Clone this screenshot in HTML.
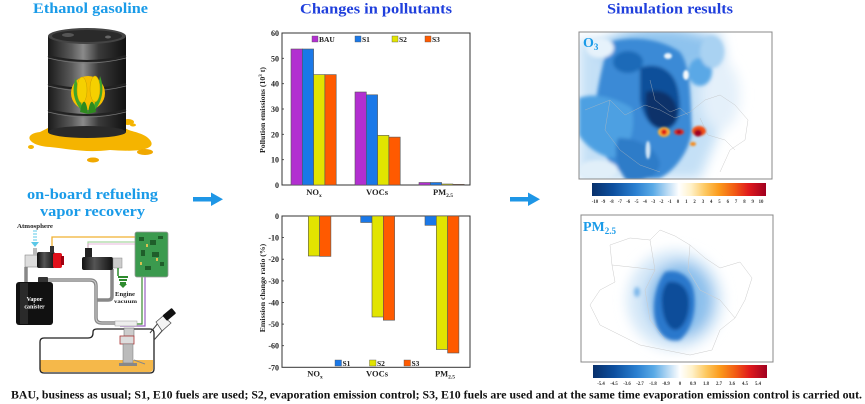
<!DOCTYPE html>
<html><head><meta charset="utf-8">
<style>
html,body{margin:0;padding:0;background:#fff;}
svg{display:block;}
text{font-family:"Liberation Serif",serif;font-weight:bold;}
</style></head>
<body>
<svg width="865" height="404" viewBox="0 0 865 404" xmlns="http://www.w3.org/2000/svg">
<defs>
  <filter id="b3" x="-30%" y="-30%" width="160%" height="160%"><feGaussianBlur stdDeviation="3"/></filter>
  <filter id="b2" x="-30%" y="-30%" width="160%" height="160%"><feGaussianBlur stdDeviation="1.8"/></filter>
  <filter id="b6" x="-40%" y="-40%" width="180%" height="180%"><feGaussianBlur stdDeviation="6"/></filter>
  <filter id="b1" x="-30%" y="-30%" width="160%" height="160%"><feGaussianBlur stdDeviation="1"/></filter>
  <clipPath id="m1"><rect x="579" y="32" width="193" height="147"/></clipPath>
  <clipPath id="m2"><rect x="581" y="215" width="192" height="147"/></clipPath>
  <linearGradient id="cb1" x1="0" x2="1" y1="0" y2="0">
    <stop offset="0" stop-color="#08306b"/>
    <stop offset="0.12" stop-color="#0d4f9e"/>
    <stop offset="0.25" stop-color="#2a7fd0"/>
    <stop offset="0.35" stop-color="#5aaae6"/>
    <stop offset="0.43" stop-color="#b5d8f3"/>
    <stop offset="0.5" stop-color="#ffffff"/>
    <stop offset="0.57" stop-color="#fff1c8"/>
    <stop offset="0.65" stop-color="#fdc860"/>
    <stop offset="0.73" stop-color="#fb9a1c"/>
    <stop offset="0.82" stop-color="#f25a14"/>
    <stop offset="0.9" stop-color="#e01a1c"/>
    <stop offset="1" stop-color="#a00020"/>
  </linearGradient>
  <linearGradient id="barrel" x1="0" x2="1" y1="0" y2="0">
    <stop offset="0" stop-color="#1a1a1a"/>
    <stop offset="0.3" stop-color="#5a5a5a"/>
    <stop offset="0.45" stop-color="#8a8a8a"/>
    <stop offset="0.65" stop-color="#3a3a3a"/>
    <stop offset="1" stop-color="#111"/>
  </linearGradient>
  <linearGradient id="steel" x1="0" x2="1" y1="0" y2="0">
    <stop offset="0" stop-color="#111"/>
    <stop offset="0.4" stop-color="#555"/>
    <stop offset="1" stop-color="#111"/>
  </linearGradient>
</defs>

<!-- ===== Titles ===== -->
<text x="33" y="13" font-size="14.5" fill="#1a9be8" textLength="115" lengthAdjust="spacingAndGlyphs">Ethanol gasoline</text>
<text x="300" y="13.5" font-size="15" fill="#1f3fdc" textLength="152" lengthAdjust="spacingAndGlyphs">Changes in pollutants</text>
<text x="607" y="13.5" font-size="15" fill="#1f3fdc" textLength="126" lengthAdjust="spacingAndGlyphs">Simulation results</text>
<text x="27" y="199" font-size="14.5" fill="#1a9be8" textLength="131" lengthAdjust="spacingAndGlyphs">on-board refueling</text>
<text x="40" y="216" font-size="14.5" fill="#1a9be8" textLength="105" lengthAdjust="spacingAndGlyphs">vapor recovery</text>

<!-- ===== Barrel ===== -->
<g>
  <path d="M40,132 C22,134 28,146 50,147 C70,149 85,153 110,150 C135,152 158,150 150,140 C144,132 130,132 125,128 L48,128 Z" fill="#f5b400"/>
  <ellipse cx="128" cy="122" rx="6" ry="3" fill="#f5b400"/>
  <ellipse cx="145" cy="152" rx="8" ry="3" fill="#f0a800"/>
  <ellipse cx="93" cy="160" rx="6" ry="2.5" fill="#f0a800"/>
  <ellipse cx="31" cy="147" rx="3" ry="2" fill="#f5b400"/>
  <ellipse cx="133" cy="125" rx="3" ry="1.5" fill="#f5b400"/>
  <rect x="48" y="36" width="78" height="96" fill="url(#barrel)"/>
  <ellipse cx="87" cy="132" rx="39" ry="6" fill="#2a2a2a"/>
  <ellipse cx="87" cy="36" rx="39" ry="8" fill="#444"/>
  <ellipse cx="87" cy="36" rx="35" ry="6" fill="#2a2a2a"/>
  <ellipse cx="68" cy="35" rx="6" ry="2" fill="#555"/>
  <ellipse cx="108" cy="37" rx="3" ry="1.5" fill="#666"/>
  <path d="M48,56 Q87,66 126,56" stroke="#222" stroke-width="2" fill="none"/>
  <path d="M48,58 Q87,68 126,58" stroke="#777" stroke-width="0.8" fill="none"/>
  <path d="M48,84 Q87,94 126,84" stroke="#222" stroke-width="2" fill="none"/>
  <path d="M48,86 Q87,96 126,86" stroke="#777" stroke-width="0.8" fill="none"/>
  <path d="M48,110 Q87,120 126,110" stroke="#222" stroke-width="2" fill="none"/>
  <path d="M48,112 Q87,122 126,112" stroke="#777" stroke-width="0.8" fill="none"/>
  <circle cx="88" cy="93" r="17" fill="#f7c000"/>
  <path d="M76,78 C70,92 76,106 84,113 C80,100 78,88 76,78Z" fill="#3fa52a"/>
  <path d="M100,76 C106,92 100,106 92,113 C96,100 98,88 100,76Z" fill="#3fa52a"/>
  <ellipse cx="82" cy="90" rx="5" ry="13" fill="#f5d000" stroke="#c8a000" stroke-width="0.5"/>
  <ellipse cx="95" cy="89" rx="5" ry="13" fill="#f5d000" stroke="#c8a000" stroke-width="0.5"/>
  <path d="M80,112 C82,100 86,96 88,114Z" fill="#2e8a1e"/>
  <path d="M96,112 C94,100 90,96 88,114Z" fill="#2e8a1e"/>
</g>

<!-- ===== Refueling diagram ===== -->
<g>
  <text x="17" y="228" font-size="6" fill="#222" textLength="36" lengthAdjust="spacingAndGlyphs">Atmosphere</text>
  <g stroke="#5bc8e8" stroke-width="1">
    <line x1="33" y1="231" x2="37" y2="231"/><line x1="33" y1="234" x2="37" y2="234"/><line x1="33" y1="237" x2="37" y2="237"/><line x1="33" y1="240" x2="37" y2="240"/>
  </g>
  <path d="M31,242 L39,242 L35,247 Z" fill="#5bc8e8"/>
  <path d="M52,248 L52,237 L136,237" stroke="#f0b030" stroke-width="1.3" fill="none"/>
  <path d="M88,249 L88,242 L136,242" stroke="#a8d8a0" stroke-width="1.2" fill="none"/>
  <path d="M88,249 L88,244 L136,244" stroke="#e0a0d0" stroke-width="0.8" fill="none"/>
  <path d="M142,276 L142,324 L120,324" stroke="#3a8a30" stroke-width="1.2" fill="none"/>
  <path d="M145,276 L145,326 L120,326" stroke="#9a60c0" stroke-width="1.2" fill="none"/>
  <g stroke="#888" stroke-width="3.5" fill="none" stroke-linejoin="round">
    <path d="M26,267 L26,283"/>
    <path d="M48,280 L90,280 Q96,280 96,286 L96,318 Q96,323 102,323 L135,323"/>
    <path d="M96,300 L108,300 Q112,300 112,296 L112,269"/>
  </g>
  <g stroke="#ccc" stroke-width="1" fill="none">
    <path d="M48,280 L90,280 Q96,280 96,286 L96,318 Q96,323 102,323 L135,323"/>
  </g>
  <rect x="25" y="255" width="13" height="12" fill="#ddd" stroke="#777" stroke-width="0.5"/>
  <rect x="33" y="248" width="4" height="7" fill="#bbb"/>
  <rect x="37" y="252" width="18" height="16" rx="2" fill="url(#steel)"/>
  <rect x="50" y="246" width="4" height="7" fill="#333"/>
  <rect x="53" y="253" width="9" height="15" rx="2" fill="#e0101a"/>
  <rect x="61" y="256" width="3" height="9" fill="#a00010"/>
  <rect x="82" y="257" width="31" height="13" rx="2" fill="url(#steel)"/>
  <rect x="85" y="248" width="7" height="9" fill="#222"/>
  <rect x="113" y="258" width="9" height="10" fill="#ccc" stroke="#888" stroke-width="0.5"/>
  <path d="M118,268 L118,276" stroke="#2a8a2a" stroke-width="1.5"/>
  <g fill="#2e8b2e"><rect x="118" y="276" width="10" height="2"/><rect x="119" y="279" width="8" height="2"/><rect x="120" y="282" width="6" height="2"/></g>
  <path d="M119,284 L127,284 L123,288Z" fill="#2e8b2e"/>
  <text x="115" y="296" font-size="6" fill="#222" textLength="20" lengthAdjust="spacingAndGlyphs">Engine</text>
  <text x="114" y="303" font-size="5.5" fill="#222" textLength="23" lengthAdjust="spacingAndGlyphs">vacuum</text>
  <rect x="135" y="232" width="33" height="45" rx="2" fill="#3b9a4e" stroke="#999" stroke-width="0.8"/>
  <g fill="#1f5e2a">
    <rect x="139" y="237" width="5" height="4"/><rect x="150" y="240" width="6" height="5"/><rect x="158" y="236" width="5" height="3"/>
    <rect x="141" y="250" width="4" height="6"/><rect x="152" y="252" width="7" height="5"/><rect x="160" y="262" width="4" height="4"/>
    <rect x="145" y="266" width="6" height="4"/>
  </g>
  <g fill="#d8c050"><rect x="146" y="244" width="2" height="3"/><rect x="156" y="258" width="2" height="3"/><rect x="140" y="262" width="2" height="3"/></g>
  <rect x="38" y="277" width="10" height="6" rx="1" fill="#333"/>
  <rect x="16" y="282" width="37" height="43" rx="3" fill="#111"/>
  <rect x="20" y="283" width="8" height="41" fill="#2a2a2a"/>
  <text x="34.5" y="301" font-size="6" fill="#fff" text-anchor="middle">Vapor</text>
  <text x="34.5" y="308.5" font-size="6" fill="#fff" text-anchor="middle">canister</text>
  <path d="M40,360 L153,360 L153,369 Q153,372 149,372 L44,372 Q40,372 40,369 Z" fill="#f5b84a"/>
  <path d="M44,338 L88,338 Q93,338 93,333 L93,332 Q93,329 97,329 L150,329 Q154,329 154,333 L154,369 Q154,373 150,373 L44,373 Q40,373 40,369 L40,342 Q40,338 44,338 Z" fill="none" stroke="#222" stroke-width="1.3"/>
  <path d="M150,333 L163,317 M154,340 L170,322" stroke="#444" stroke-width="1" fill="none"/>
  <path d="M156,322 L163,316 L171,323 L162,331 Z" fill="#f4f4f4" stroke="#555" stroke-width="0.8"/>
  <rect x="163" y="311" width="12" height="7" rx="1" fill="#111" transform="rotate(-40 169 314)"/>
  <rect x="124" y="328" width="10" height="8" fill="#ccc" stroke="#666" stroke-width="0.5"/>
  <rect x="120" y="336" width="14" height="8" fill="#ddd" stroke="#a33" stroke-width="0.8"/>
  <rect x="123" y="344" width="10" height="19" fill="#bbb" stroke="#777" stroke-width="0.5"/>
  <rect x="119" y="363" width="18" height="3" fill="#888"/>
  <path d="M134,360 L145,364" stroke="#888" stroke-width="1"/>
  <rect x="115" y="321" width="22" height="5" fill="#eee" stroke="#999" stroke-width="0.5"/>
</g>

<!-- ===== Arrows ===== -->
<g fill="#1e96e6">
  <rect x="193" y="197" width="20" height="4.5"/>
  <path d="M211,192.5 L223,199.2 L211,206 Z"/>
  <rect x="510" y="197" width="20" height="4.5"/>
  <path d="M528,192.5 L540,199.2 L528,206 Z"/>
</g>

<!-- ===== Top chart ===== -->
<g>
  <rect x="282" y="33" width="188" height="152" fill="#fff" stroke="#333" stroke-width="1"/>
  <g font-size="8" fill="#222" text-anchor="end">
    <text x="279" y="36">60</text><text x="279" y="61.3">50</text><text x="279" y="86.7">40</text>
    <text x="279" y="112">30</text><text x="279" y="137.3">20</text><text x="279" y="162.7">10</text><text x="279" y="188">0</text>
  </g>
  <g stroke="#333" stroke-width="0.8">
    <line x1="282" y1="58.3" x2="284" y2="58.3"/><line x1="282" y1="83.7" x2="284" y2="83.7"/><line x1="282" y1="109" x2="284" y2="109"/>
    <line x1="282" y1="134.3" x2="284" y2="134.3"/><line x1="282" y1="159.7" x2="284" y2="159.7"/>
  </g>
  <text transform="translate(265,110) rotate(-90)" font-size="7.8" fill="#222" text-anchor="middle">Pollution emissions (10<tspan font-size="5" dy="-3">3</tspan><tspan dy="3"> t)</tspan></text>
  <g stroke="#555" stroke-width="0.6">
    <rect x="291" y="49" width="11.3" height="136" fill="#b22fd0"/>
    <rect x="302.3" y="49" width="11.3" height="136" fill="#1a78e8"/>
    <rect x="313.6" y="74.6" width="11.3" height="110.4" fill="#e2e400"/>
    <rect x="324.9" y="74.6" width="11.3" height="110.4" fill="#ff5a00"/>
    <rect x="355" y="92" width="11.3" height="93" fill="#b22fd0"/>
    <rect x="366.3" y="94.8" width="11.3" height="90.2" fill="#1a78e8"/>
    <rect x="377.6" y="135.4" width="11.3" height="49.6" fill="#e2e400"/>
    <rect x="388.9" y="137.1" width="11.3" height="47.9" fill="#ff5a00"/>
    <rect x="419" y="182.5" width="11.3" height="2.5" fill="#b22fd0"/>
    <rect x="430.3" y="182.5" width="11.3" height="2.5" fill="#1a78e8"/>
    <rect x="441.6" y="184" width="11.3" height="1" fill="#e2e400"/>
    <rect x="452.9" y="184.3" width="11.3" height="0.7" fill="#ff5a00"/>
  </g>
  <g font-size="7.5" fill="#222">
    <rect x="312" y="36" width="6" height="6" fill="#b22fd0" stroke="#555" stroke-width="0.4"/><text x="319" y="42">BAU</text>
    <rect x="355" y="36" width="6" height="6" fill="#1a78e8" stroke="#555" stroke-width="0.4"/><text x="362" y="42">S1</text>
    <rect x="392" y="36" width="6" height="6" fill="#e2e400" stroke="#555" stroke-width="0.4"/><text x="399" y="42">S2</text>
    <rect x="425" y="36" width="6" height="6" fill="#ff5a00" stroke="#555" stroke-width="0.4"/><text x="432" y="42">S3</text>
  </g>
  <g font-size="8.5" fill="#222" text-anchor="middle">
    <text x="314" y="195">NO<tspan font-size="5.5" dy="2">x</tspan></text>
    <text x="377" y="195">VOCs</text>
    <text x="443" y="195">PM<tspan font-size="5.5" dy="2">2.5</tspan></text>
  </g>
</g>

<!-- ===== Bottom chart ===== -->
<g>
  <rect x="282" y="216" width="188" height="151.3" fill="#fff" stroke="#333" stroke-width="1"/>
  <g font-size="8" fill="#222" text-anchor="end">
    <text x="279" y="219">0</text><text x="279" y="240.6">-10</text><text x="279" y="262.2">-20</text>
    <text x="279" y="283.9">-30</text><text x="279" y="305.5">-40</text><text x="279" y="327.1">-50</text>
    <text x="279" y="348.7">-60</text><text x="279" y="370.3">-70</text>
  </g>
  <g stroke="#333" stroke-width="0.8">
    <line x1="282" y1="237.6" x2="284" y2="237.6"/><line x1="282" y1="259.2" x2="284" y2="259.2"/><line x1="282" y1="280.9" x2="284" y2="280.9"/>
    <line x1="282" y1="302.5" x2="284" y2="302.5"/><line x1="282" y1="324.1" x2="284" y2="324.1"/><line x1="282" y1="345.7" x2="284" y2="345.7"/>
  </g>
  <text transform="translate(265,288) rotate(-90)" font-size="7.8" fill="#222" text-anchor="middle">Emission change ratio (%)</text>
  <g stroke="#555" stroke-width="0.6">
    <rect x="308.3" y="216" width="11.3" height="40" fill="#e2e400"/>
    <rect x="319.6" y="216" width="11.3" height="40.4" fill="#ff5a00"/>
    <rect x="360.7" y="216" width="11.3" height="6.5" fill="#1a78e8"/>
    <rect x="372" y="216" width="11.3" height="101" fill="#e2e400"/>
    <rect x="383.3" y="216" width="11.3" height="104.2" fill="#ff5a00"/>
    <rect x="425" y="216" width="11.3" height="9.3" fill="#1a78e8"/>
    <rect x="436.3" y="216" width="11.3" height="133.5" fill="#e2e400"/>
    <rect x="447.6" y="216" width="11.3" height="137" fill="#ff5a00"/>
  </g>
  <g font-size="7.5" fill="#222">
    <rect x="335" y="360" width="6.5" height="6" fill="#1a78e8" stroke="#555" stroke-width="0.4"/><text x="342.5" y="366">S1</text>
    <rect x="369.5" y="360" width="6.5" height="6" fill="#e2e400" stroke="#555" stroke-width="0.4"/><text x="377" y="366">S2</text>
    <rect x="404" y="360" width="6.5" height="6" fill="#ff5a00" stroke="#555" stroke-width="0.4"/><text x="411.5" y="366">S3</text>
  </g>
  <g font-size="8.5" fill="#222" text-anchor="middle">
    <text x="315" y="376.5">NO<tspan font-size="5.5" dy="2">x</tspan></text>
    <text x="377" y="376.5">VOCs</text>
    <text x="445" y="376.5">PM<tspan font-size="5.5" dy="2">2.5</tspan></text>
  </g>
</g>

<!-- ===== O3 map ===== -->
<g clip-path="url(#m1)">
  <rect x="579" y="32" width="193" height="147" fill="#fff"/>
  <g filter="url(#b6)">
    <path d="M579,40 L720,32 L730,80 L720,130 L700,179 L579,179 Z" fill="#c4e0f6"/>
    <ellipse cx="660" cy="50" rx="60" ry="22" fill="#8ec3ee"/>
    <ellipse cx="720" cy="95" rx="20" ry="35" fill="#e4f0fa"/>
  </g>
  <g filter="url(#b2)">
    <path d="M610,42 C630,36 660,38 680,52 C692,68 690,100 692,130 C690,150 676,170 660,178 C640,180 625,176 612,165 C600,150 592,128 596,100 C600,75 604,58 610,42 Z" fill="#3a8ad6"/>
    <path d="M579,98 C595,92 615,98 632,108 C636,130 630,152 612,158 C597,155 585,145 579,135 Z" fill="#4da0e2"/>
    <path d="M618,138 C635,138 655,145 660,163 C658,178 643,182 626,180 C617,168 613,152 618,138 Z" fill="#2f7cc8"/>
    <path d="M640,68 C655,62 674,68 678,90 C682,110 680,126 666,130 C650,130 643,116 640,100 Z" fill="#114f9a"/>
    <path d="M646,92 C660,88 675,94 677,110 C678,123 671,128 660,128 C649,126 644,114 646,92 Z" fill="#08306b"/>
    <ellipse cx="628" cy="62" rx="15" ry="11" fill="#1f6bb8"/>
    <ellipse cx="700" cy="72" rx="12" ry="14" fill="#5aa8e6"/>
    <ellipse cx="712" cy="52" rx="12" ry="16" fill="#a9d2f2"/>
    <ellipse cx="600" cy="48" rx="14" ry="10" fill="#e6f2fb"/>
    <ellipse cx="598" cy="170" rx="20" ry="10" fill="#e1eff9"/>
  </g>
  <g filter="url(#b1)">
    <ellipse cx="668" cy="56" rx="4" ry="3" fill="#eaf4fc"/>
    <ellipse cx="686" cy="75" rx="3" ry="5" fill="#f4f9fd"/>
    <ellipse cx="648" cy="150" rx="2.5" ry="9" fill="#cfe4f6"/>
    <ellipse cx="664" cy="132" rx="6" ry="5" fill="#fbb03a"/>
    <ellipse cx="664" cy="132" rx="3" ry="3" fill="#e01818"/>
    <ellipse cx="679" cy="132" rx="5" ry="3" fill="#e53020"/>
    <ellipse cx="679" cy="132" rx="2.5" ry="2" fill="#a00020"/>
    <ellipse cx="699" cy="131" rx="7" ry="5" fill="#f25014"/>
    <ellipse cx="698" cy="133" rx="4" ry="3.5" fill="#a00020"/>
    <ellipse cx="693" cy="144" rx="3" ry="2" fill="#f58a1a"/>
  </g>
  <g stroke="#bbb" stroke-width="0.5" fill="none" opacity="0.7">
    <path d="M585,110 L610,100 L625,115 L645,105 L660,110 L675,118 L690,112 L705,100 L720,95 L735,105 L748,120 L745,140 L730,150 L720,172"/>
    <path d="M650,80 L655,100 L670,112 L680,108 L688,115"/>
    <path d="M700,118 L708,135 L725,140 L735,150"/>
    <path d="M610,100 L605,130 L620,150 L640,165 L660,172"/>
  </g>
  <text x="583" y="47" font-size="14" fill="#1a9be8">O<tspan font-size="9" dy="3">3</tspan></text>
</g>
<rect x="579" y="32" width="193" height="147" fill="none" stroke="#888" stroke-width="1"/>
<rect x="592" y="183" width="174" height="13" fill="url(#cb1)"/>
<g font-size="4.8" fill="#333" text-anchor="middle" font-weight="normal">
  <text x="595" y="203">-10</text><text x="603.3" y="203">-9</text><text x="611.6" y="203">-8</text><text x="619.9" y="203">-7</text><text x="628.2" y="203">-6</text>
  <text x="636.5" y="203">-5</text><text x="644.8" y="203">-4</text><text x="653.1" y="203">-3</text><text x="661.4" y="203">-2</text><text x="669.7" y="203">-1</text>
  <text x="678" y="203">0</text><text x="686.3" y="203">1</text><text x="694.6" y="203">2</text><text x="702.9" y="203">3</text><text x="711.2" y="203">4</text>
  <text x="719.5" y="203">5</text><text x="727.8" y="203">6</text><text x="736.1" y="203">7</text><text x="744.4" y="203">8</text><text x="752.7" y="203">9</text><text x="761" y="203">10</text>
</g>

<!-- ===== PM2.5 map ===== -->
<g clip-path="url(#m2)">
  <rect x="581" y="215" width="192" height="147" fill="#fff"/>
  <g filter="url(#b6)">
    <ellipse cx="675" cy="300" rx="48" ry="50" fill="#d5e8f8"/>
    <ellipse cx="680" cy="300" rx="33" ry="38" fill="#8cc0ec"/>
  </g>
  <g filter="url(#b2)">
    <path d="M665,272 C680,268 692,278 694,292 C697,310 692,330 680,340 C668,343 658,335 655,320 C652,305 655,285 665,272 Z" fill="#2a78cc"/>
    <path d="M668,282 C680,280 688,288 689,300 C690,315 684,328 676,330 C668,330 663,318 662,305 C661,295 663,287 668,282 Z" fill="#0e4e9a"/>
    <ellipse cx="637" cy="292" rx="3" ry="5" fill="#7ab6ea"/>
  </g>
  <g stroke="#ccc" stroke-width="0.5" fill="none">
    <path d="M610,245 L630,238 L650,240 L660,230 L675,236 L690,245 L705,258 L720,268 L740,262 L752,278 L745,300 L735,318 L720,330 L712,350 L690,355 L665,350 L640,345 L620,335 L600,325 L590,305 L600,290 L615,282 L612,265 Z"/>
    <path d="M650,240 L655,270 L645,290 L650,320 L665,340"/>
    <path d="M690,245 L688,270 L700,290 L720,300 L735,318"/>
    <path d="M612,265 L640,268 L655,270"/>
  </g>
  <text x="583" y="231" font-size="14" fill="#1a9be8">PM<tspan font-size="9" dy="3">2.5</tspan></text>
</g>
<rect x="581" y="215" width="192" height="147" fill="none" stroke="#888" stroke-width="1"/>
<rect x="593" y="365" width="174" height="13" fill="url(#cb1)"/>
<g font-size="4.8" fill="#333" text-anchor="middle" font-weight="normal">
  <text x="601" y="385">-5.4</text><text x="614" y="385">-4.5</text><text x="627" y="385">-3.6</text><text x="640" y="385">-2.7</text>
  <text x="653" y="385">-1.8</text><text x="666" y="385">-0.9</text><text x="680" y="385">0</text><text x="693" y="385">0.9</text>
  <text x="706" y="385">1.8</text><text x="719" y="385">2.7</text><text x="732" y="385">3.6</text><text x="745" y="385">4.5</text><text x="758" y="385">5.4</text>
</g>

<!-- ===== Caption ===== -->
<text x="11" y="398.5" font-size="11.5" fill="#111" textLength="851" lengthAdjust="spacingAndGlyphs">BAU, business as usual; S1, E10 fuels are used; S2,  evaporation emission control; S3, E10 fuels are used and at the same time evaporation emission control is carried out.</text>
</svg>
</body></html>
